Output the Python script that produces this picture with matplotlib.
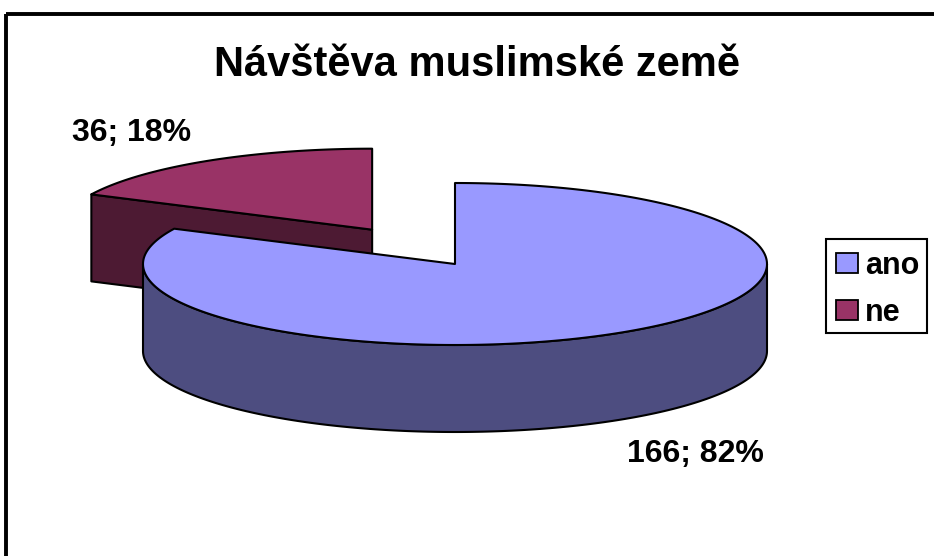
"""Exploded 3D-style pie: visits to a Muslim country."""

import matplotlib.pyplot as plt
import numpy as np
from matplotlib.patches import Polygon, Rectangle

TITLE = "Návštěva muslimské země"
CATEGORIES = ["ano", "ne"]
COUNTS = [166, 36]
EXPLODE = [0.0, 0.5]
TOP_COLORS = ["#9999ff", "#993366"]
SIDE_COLORS = ["#4d4d80", "#4d1a33"]

# layout in pixel units (axes spans whole figure, y grows downwards)
WIDTH, HEIGHT = 934, 556
CENTER = (455.0, 264.0)
RX, RY, DEPTH = 312.0, 81.0, 87.0
START_ANGLE = 90.0
LABEL_K = 1.45
FONT = "Liberation Sans"
EDGE_LW = 1.5


def rim(cx, cy, angles, drop=0.0):
    """Points on the top (or dropped) ellipse rim for angles in degrees."""

    rad = np.radians(angles)
    return np.column_stack([cx + RX * np.cos(rad), cy - RY * np.sin(rad) + drop])


def slice_geometry(counts, explode):
    """Return angle ranges and exploded centres for each slice."""

    total = float(sum(counts))
    current = START_ANGLE
    out = []
    for count, exp in zip(counts, explode):
        theta2 = current
        theta1 = current - 360.0 * count / total
        current = theta1
        mid = np.radians(0.5 * (theta1 + theta2))
        cx = CENTER[0] + exp * RX * np.cos(mid)
        cy = CENTER[1] - exp * RY * np.sin(mid)
        out.append((theta1, theta2, cx, cy, count / total))
    return out


def draw_slice(ax, theta1, theta2, cx, cy, top_color, side_color):
    """Draw radial faces, outer wall and top of one wedge."""

    poly_kw = dict(edgecolor="black", linewidth=EDGE_LW, joinstyle="round")
    # radial faces facing the viewer
    for angle, normal in ((theta1, theta1 - 90.0), (theta2, theta2 + 90.0)):
        if np.sin(np.radians(normal)) < -1e-6:
            p = rim(cx, cy, [angle])[0]
            face = [(cx, cy), tuple(p), (p[0], p[1] + DEPTH), (cx, cy + DEPTH)]
            ax.add_patch(Polygon(face, closed=True, facecolor=side_color, **poly_kw))
    # outer curved wall on the front half
    for k in range(-2, 2):
        lo = max(theta1, 180.0 + 360.0 * k)
        hi = min(theta2, 360.0 + 360.0 * k)
        if hi - lo > 1e-6:
            angles = np.linspace(lo, hi, 200)
            upper = rim(cx, cy, angles)
            lower = rim(cx, cy, angles[::-1], DEPTH)
            ax.add_patch(Polygon(np.vstack([upper, lower]), closed=True,
                                 facecolor=side_color, **poly_kw))
    # top face
    angles = np.linspace(theta1, theta2, 300)
    top = np.vstack([[cx, cy], rim(cx, cy, angles)])
    ax.add_patch(Polygon(top, closed=True, facecolor=top_color, **poly_kw))


def main() -> None:
    fig = plt.figure(figsize=(WIDTH / 100, HEIGHT / 100), dpi=100)
    ax = fig.add_axes([0, 0, 1, 1])
    ax.set_xlim(0, WIDTH)
    ax.set_ylim(HEIGHT, 0)
    ax.axis("off")

    # chart area frame (runs off right and bottom edges)
    ax.add_patch(Rectangle((6, 14), 1000, 700, fill=False, edgecolor="black",
                           linewidth=2.8))

    ax.text(477, 76, TITLE, ha="center", va="baseline", fontsize=30,
            fontweight="bold", family=FONT)

    geoms = slice_geometry(COUNTS, EXPLODE)
    order = sorted(range(len(geoms)), key=lambda i: geoms[i][3])
    for i in order:
        theta1, theta2, cx, cy, _ = geoms[i]
        draw_slice(ax, theta1, theta2, cx, cy, TOP_COLORS[i], SIDE_COLORS[i])

    for (theta1, theta2, cx, cy, frac), count in zip(geoms, COUNTS):
        mid = np.radians(0.5 * (theta1 + theta2))
        lx = cx + LABEL_K * RX * np.cos(mid)
        ly = cy - LABEL_K * RY * np.sin(mid)
        if np.sin(mid) < 0:
            ly += DEPTH
        ax.text(lx, ly + 11, f"{count}; {frac * 100:.0f}%", ha="center",
                va="baseline", fontsize=23, fontweight="bold", family=FONT)

    # legend
    ax.add_patch(Rectangle((826, 239), 101, 94, fill=False, edgecolor="black",
                           linewidth=1.5))
    for i, (label, color) in enumerate(zip(CATEGORIES, TOP_COLORS)):
        y0 = 253 + i * 47
        ax.add_patch(Rectangle((836, y0), 22, 20, facecolor=color,
                               edgecolor="black", linewidth=1.3))
        ax.text(865, y0 + 21, label, ha="left", va="baseline", fontsize=22,
                fontweight="bold", family=FONT)

    fig.savefig("out.png", dpi=100)
    plt.close(fig)


if __name__ == "__main__":
    main()
